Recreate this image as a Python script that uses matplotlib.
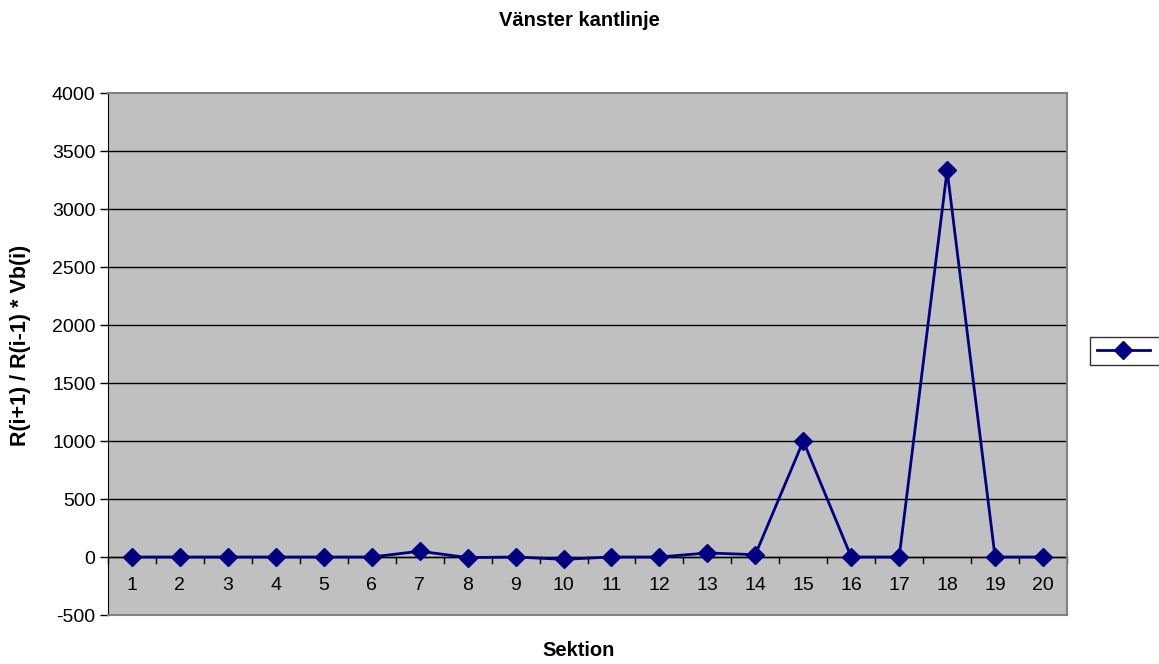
import matplotlib
matplotlib.use("Agg")
import matplotlib.pyplot as plt

sections = list(range(1, 21))
values = [0, 0, 0, 0, 0, 0, 50, -5, 0, -20, 0, 0, 35, 20, 1000, 0, 0, 3333, 0, 0]
yticks = [-500, 0, 500, 1000, 1500, 2000, 2500, 3000, 3500, 4000]

plt.rcParams['font.family'] = ['Liberation Sans', 'DejaVu Sans']

fig = plt.figure(figsize=(11.59, 6.64), dpi=100)
W, H = 1159, 664
L, R, T, B = 108, 1067, 93, 615
ax = fig.add_axes([L / W, 1 - B / H, (R - L) / W, (B - T) / H])
ax.set_facecolor('#C0C0C0')

ax.set_ylim(-500, 4000)
ax.set_xlim(0.5, 20.5)
ax.set_yticks(yticks)
ax.set_yticklabels([str(v) for v in yticks], fontsize=14)
for v in yticks:
    if v not in (-500, 4000):
        ax.axhline(v, color='black', linewidth=1, zorder=1)

ax.plot(sections, values, color='#000080', linewidth=2, marker='D', markersize=9.5,
        markerfacecolor='#000080', markeredgecolor='#000080', zorder=3, label=' ')

# x axis line at zero with category boundary ticks
ax.axhline(0, color='black', linewidth=1, zorder=2)
ax.set_xticks([])
for b in [i + 0.5 for i in range(0, 21)]:
    ax.plot([b, b], [0, -55], color='black', linewidth=1, zorder=2, clip_on=False)
for s in sections:
    ax.text(s, -250, str(s), ha='center', va='center', fontsize=14)

ax.tick_params(axis='y', length=6, width=1, direction='out', pad=3)
ax.spines['left'].set_color('black')
for side in ['top', 'right', 'bottom']:
    ax.spines[side].set_color('#808080')
    ax.spines[side].set_linewidth(1.5)

fig.text(579 / W, 1 - 651 / H, 'Sektion', ha='center', va='center',
         fontsize=14.5, fontweight='bold')
fig.text(21 / W, 1 - 345 / H, 'R(i+1) / R(i-1) * Vb(i)', ha='center', va='center',
         rotation=90, fontsize=15.5, fontweight='bold')
fig.text(579 / W, 1 - 20 / H, 'Vänster kantlinje', ha='center', va='center',
         fontsize=14.5, fontweight='bold')

leg = fig.legend(loc='upper left', bbox_to_anchor=(1090 / W, 1 - 337 / H),
                 frameon=True, fancybox=False, edgecolor='black', fontsize=12,
                 handlelength=3.2, borderpad=0.4, borderaxespad=0)
leg.get_frame().set_linewidth(1)

fig.savefig('out.png', dpi=100)
